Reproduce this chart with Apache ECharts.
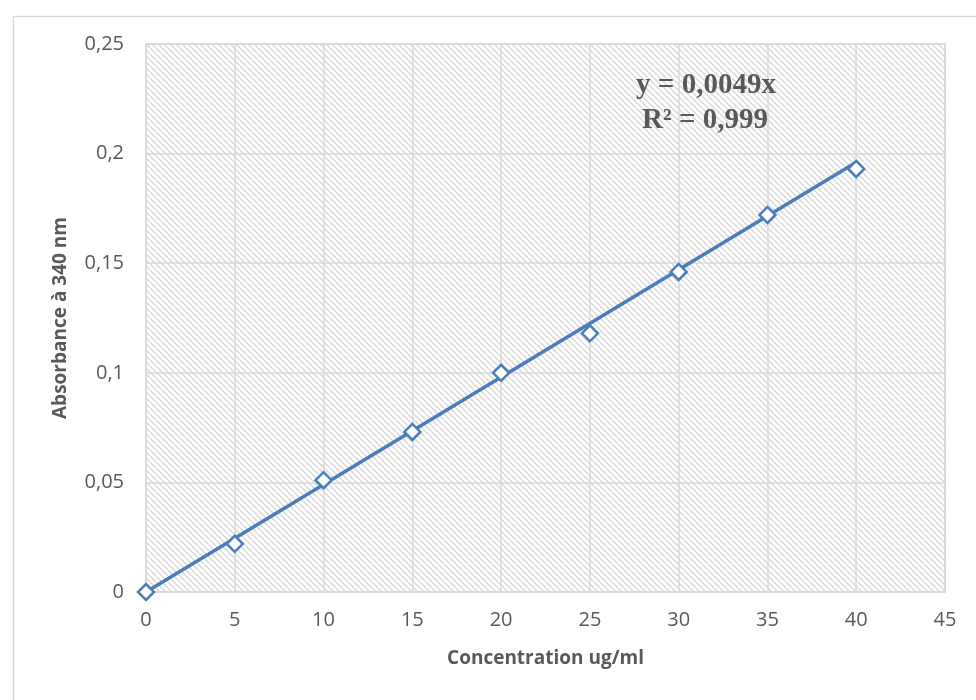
<!DOCTYPE html>
<html>
<head>
<meta charset="utf-8">
<script src="https://cdn.jsdelivr.net/npm/echarts@6/dist/echarts.min.js"></script>
<style>
html,body{margin:0;padding:0;background:#fff;}
#chart{width:976px;height:700px;}
</style>
</head>
<body>
<div id="chart"></div>
<script>
// Data
var concentrations = [0, 5, 10, 15, 20, 25, 30, 35, 40];
var absorbances = [0, 0.022, 0.051, 0.073, 0.100, 0.118, 0.146, 0.172, 0.193];
var trendSlope = 0.0049;
var trendRange = [0, 40];
var yTickValues = [0, 0.05, 0.1, 0.15, 0.2, 0.25];
var yTickLabels = ['0', '0,05', '0,1', '0,15', '0,2', '0,25'];
var xTickLabels = ['0', '5', '10', '15', '20', '25', '30', '35', '40', '45'];
var equationLines = ['y = 0,0049x', 'R² = 0,999'];

// hatch pattern
var tile = document.createElement('canvas');
var s = 6;
tile.width = s; tile.height = s;
var ctx = tile.getContext('2d');
ctx.fillStyle = '#ffffff';
ctx.fillRect(0, 0, s, s);
ctx.strokeStyle = '#dcdcdc';
ctx.lineWidth = 1.6;
for (var k = -1; k <= 1; k++) {
  ctx.beginPath();
  ctx.moveTo(k * s, 0);
  ctx.lineTo(k * s + s, s);
  ctx.stroke();
}

var seriesData = concentrations.map(function (c, i) { return [c, absorbances[i]]; });
var trendData = trendRange.map(function (x) { return [x, trendSlope * x]; });

var chart = echarts.init(document.getElementById('chart'));
var axisFont = { color: '#595959', fontSize: 20, fontFamily: 'Open Sans' };
var nameFont = { color: '#595959', fontSize: 19, fontWeight: 'bold', fontFamily: 'Open Sans' };
chart.setOption({
  animation: false,
  backgroundColor: '#ffffff',
  grid: {
    left: 146, top: 44, right: 31, bottom: 108,
    show: true,
    backgroundColor: { image: tile, repeat: 'repeat' },
    borderColor: '#d9d9d9',
    borderWidth: 1.5
  },
  graphic: [
    {
      type: 'rect', left: 11, top: 14, silent: true, z: -10,
      shape: { width: 980, height: 700 },
      style: { fill: 'none', stroke: '#d9d9d9', lineWidth: 1.5 }
    },
    {
      type: 'text', x: 706, y: 86, z: 100,
      style: { text: equationLines[0], fill: '#595959', font: 'bold 29px "Liberation Serif"', textAlign: 'center', textVerticalAlign: 'middle' }
    },
    {
      type: 'text', x: 705, y: 121, z: 100,
      style: { text: equationLines[1], fill: '#595959', font: 'bold 29px "Liberation Serif"', textAlign: 'center', textVerticalAlign: 'middle' }
    }
  ],
  xAxis: {
    type: 'value', min: 0, max: 45, interval: 5,
    name: 'Concentration ug/ml', nameLocation: 'middle', nameGap: 57,
    nameTextStyle: nameFont,
    axisLine: { show: true, lineStyle: { color: '#d9d9d9', width: 1.5 } },
    axisTick: { show: false },
    axisLabel: Object.assign({ margin: 18, formatter: function (v) { return xTickLabels[Math.round(v / 5)]; } }, axisFont),
    splitLine: { show: true, lineStyle: { color: '#d9d9d9', width: 1.5 } }
  },
  yAxis: {
    type: 'value', min: 0, max: 0.25, interval: 0.05,
    name: 'Absorbance à 340 nm', nameLocation: 'middle', nameGap: 76, nameRotate: 90,
    nameTextStyle: nameFont,
    axisLine: { show: false },
    axisTick: { show: false },
    axisLabel: Object.assign({ margin: 22, formatter: function (v) {
      for (var i = 0; i < yTickValues.length; i++) { if (Math.abs(yTickValues[i] - v) < 1e-9) return yTickLabels[i]; }
      return '';
    } }, axisFont),
    splitLine: { show: true, lineStyle: { color: '#d9d9d9', width: 1.5 } }
  },
  series: [
    {
      type: 'line', data: trendData, showSymbol: false, symbol: 'none',
      lineStyle: { color: '#4a7dba', width: 3.5 }, z: 2, silent: true
    },
    {
      type: 'scatter', data: seriesData, symbol: 'diamond', symbolSize: [16, 16],
      itemStyle: { color: '#ffffff', borderColor: '#4a7dba', borderWidth: 2.5, opacity: 1 }, z: 3
    }
  ]
});
</script>
</body>
</html>
